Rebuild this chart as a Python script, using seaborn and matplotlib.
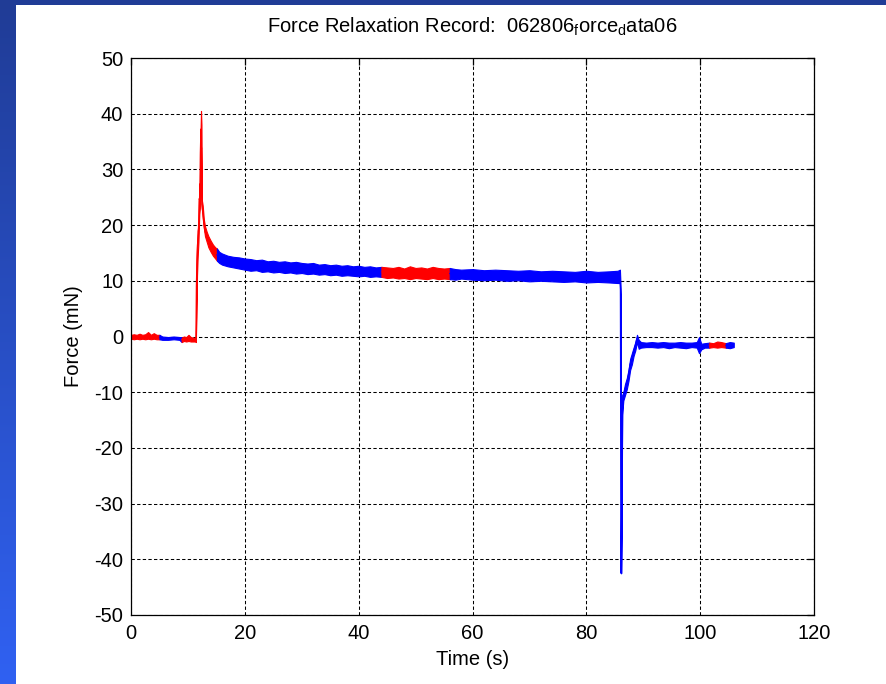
import numpy as np
import pandas as pd
import matplotlib
matplotlib.use("Agg")
import matplotlib.pyplot as plt
from matplotlib.patches import Rectangle
import seaborn as sns

# Force record: time knots with lower / upper envelope of the noisy trace,
# and the acquisition block (colour) each knot belongs to.
time_s = [
    # block 1 (red) baseline
    0.0, 0.5, 1.0, 1.5, 2.0, 2.5, 3.0, 3.5, 4.0, 4.5, 5.0,
    # block 2 (blue) baseline
    5.0, 5.5, 6.5, 7.5, 8.5, 8.9,
    # block 3 (red) step + peak
    8.9, 9.3, 9.7, 10.1, 10.5, 10.9, 11.3, 11.4, 11.45, 11.5, 11.6, 11.7,
    11.85, 12.0, 12.1, 12.2, 12.3, 12.38, 12.45, 12.6, 12.8, 13.0, 13.3,
    13.6, 14.0, 14.4, 14.8, 15.1,
    # block 4 (blue) relaxation
    15.1, 15.5, 16, 17, 18, 19, 20, 21, 22, 23, 24, 25, 26, 27, 28, 29,
    30, 31, 32, 33, 34, 35, 36, 37, 38, 39, 40, 41, 42, 43, 44,
    # block 5 (red)
    44, 45, 46, 47, 48, 49, 50, 51, 52, 53, 54, 55, 56,
    # block 6 (blue) plateau, release, recovery
    56, 57, 58, 60, 62, 64, 66, 68, 70, 72, 74, 76, 78, 80, 82, 84, 85.5,
    85.9, 86.0, 86.1, 86.2, 86.3, 86.5, 86.8, 87.1, 87.4, 87.7, 88.0, 88.3,
    88.6, 88.9, 89.2, 89.6, 90.5, 91.5, 92.5, 93.5, 94.5, 95.5, 96.5, 97.5,
    98.5, 99.4, 99.8, 100.2, 100.8, 101.6,
    # block 7 (red)
    101.6, 102.3, 103.0, 103.7, 104.5,
    # block 8 (blue)
    104.5, 105.2, 105.9,
]
force_lo = [
    -0.4, -0.5, -0.4, -0.5, -0.4, -0.5, -0.4, -0.5, -0.4, -0.5, -0.5,
    -0.5, -0.6, -0.6, -0.5, -0.6, -1.0,
    -1.0, -0.8, -0.9, -0.8, -0.9, -0.9, -0.9, -1.0, 2.5, 5.0, 11.0, 14.0,
    17.0, 22.0, 23.0, 30.0, 34.0, 25.0, 23.0, 21.5, 19.5, 18.0, 17.0,
    16.0, 15.2, 14.5, 14.0, 13.6,
    13.6, 13.2, 12.9, 12.6, 12.4, 12.2, 12.0, 11.8, 11.9, 11.6, 11.7, 11.5,
    11.6, 11.4, 11.5, 11.3, 11.4, 11.2, 11.3, 11.1, 11.2, 11.0, 11.1, 10.9,
    11.0, 10.9, 10.8, 10.9, 10.7, 10.8, 10.7,
    10.7, 10.5, 10.6, 10.4, 10.5, 10.3, 10.5, 10.4, 10.3, 10.5, 10.3, 10.4,
    10.3,
    10.3, 10.2, 10.4, 10.2, 10.1, 10.2, 10.0, 10.1, 9.9, 10.0, 9.9, 9.8,
    9.9, 9.7, 9.8, 9.7, 9.6,
    9.6, 7.2, -42.5, -32.5, -14.0, -11.5, -10.5, -9.5, -8.0, -6.0, -5.0,
    -3.5, -2.5, -1.0, -2.2, -2.0, -1.9, -1.9, -2.0, -1.9, -2.1, -1.9, -2.0,
    -2.1, -1.9, -2.0, -3.0, -2.3, -2.0, -2.0,
    -2.0, -1.9, -2.0, -1.9, -2.0,
    -2.0, -2.1, -1.9,
]
force_hi = [
    0.3, 0.4, 0.3, 0.5, 0.3, 0.4, 0.8, 0.3, 0.6, 0.3, 0.3,
    0.3, 0.0, -0.1, 0.0, -0.1, -0.1,
    -0.2, 0.0, -0.1, 0.3, -0.1, -0.2, -0.3, -0.5, 3.5, 13.0, 16.5, 19.0,
    20.0, 27.5, 26.0, 36.0, 40.5, 38.0, 24.5, 23.5, 21.0, 19.8, 18.8,
    18.0, 17.2, 16.5, 16.0, 15.8,
    15.8, 15.2, 14.9, 14.5, 14.3, 14.2, 14.0, 13.9, 13.7, 13.8, 13.5, 13.6,
    13.4, 13.5, 13.3, 13.4, 13.2, 13.1, 13.2, 12.9, 13.0, 12.8, 12.9, 12.7,
    12.8, 12.6, 12.7, 12.5, 12.6, 12.4, 12.5,
    12.5, 12.4, 12.3, 12.5, 12.2, 12.6, 12.3, 12.4, 12.2, 12.5, 12.3, 12.2,
    12.3,
    12.3, 12.1, 12.0, 12.1, 11.9, 12.0, 11.9, 11.8, 11.9, 11.7, 11.8, 11.7,
    11.6, 11.8, 11.6, 11.7, 11.8,
    12.0, 9.5, -42.5, -32.0, -10.5, -10.0, -8.5, -7.5, -6.0, -4.0, -3.0,
    -2.0, -1.0, 0.3, -0.6, -1.0, -1.1, -1.0, -1.1, -1.0, -1.1, -1.1, -1.0,
    -1.1, -1.1, -1.0, -0.1, -1.3, -1.2, -1.1,
    -1.1, -1.2, -0.9, -1.0, -1.2,
    -1.2, -1.0, -1.1,
]
block = (
    ["b1"] * 11 + ["b2"] * 6 + ["b3"] * 28 + ["b4"] * 31 + ["b5"] * 13
    + ["b6"] * 47 + ["b7"] * 5 + ["b8"] * 3
)
block_colours = {"b1": "#ff0000", "b2": "#0000ff", "b3": "#ff0000",
                 "b4": "#0000ff", "b5": "#ff0000", "b6": "#0000ff",
                 "b7": "#ff0000", "b8": "#0000ff"}

x_ticks = [0, 20, 40, 60, 80, 100, 120]
y_ticks = [-50, -40, -30, -20, -10, 0, 10, 20, 30, 40, 50]

# long table: each knot contributes its low and high envelope value
records = pd.DataFrame({
    "Time (s)": list(time_s) * 2,
    "Force (mN)": list(force_lo) + list(force_hi),
    "block": list(block) * 2,
})

sns.set_style("white")
plt.rcParams["font.family"] = ["Liberation Sans", "DejaVu Sans"]
plt.rcParams["mathtext.fontset"] = "custom"
plt.rcParams["mathtext.rm"] = "Liberation Sans"
plt.rcParams["axes.unicode_minus"] = False

W, H = 886, 684
fig = plt.figure(figsize=(W / 100, H / 100), dpi=100)
fig.patch.set_facecolor("white")

# slide frame: gradient strip on the left and a dark band along the top
bg = fig.add_axes([0, 0, 1, 1], zorder=-5)
bg.set_xlim(0, W)
bg.set_ylim(0, H)
bg.axis("off")
top_c = np.array([32, 60, 150]) / 255
bot_c = np.array([48, 97, 242]) / 255
frac = np.linspace(0, 1, 256)[:, None]
grad = (top_c[None, :] * (1 - frac) + bot_c[None, :] * frac)[:, None, :]
bg.imshow(grad, extent=[0, 16, 0, H], aspect="auto", origin="upper",
          interpolation="bilinear")
bg.add_patch(Rectangle((0, H - 5), W, 5, color=top_c, lw=0))

ax = fig.add_axes([131 / W, (H - 615) / H, 683 / W, 557 / H])
ax.set_facecolor("white")

sns.lineplot(
    data=records, x="Time (s)", y="Force (mN)", hue="block",
    palette=block_colours, estimator="mean", errorbar=("pi", 100),
    err_kws={"alpha": 1, "linewidth": 0.8}, linewidth=1.0,
    legend=False, ax=ax,
)

ax.set_xlim(0, 120)
ax.set_ylim(-50, 50)
ax.set_xticks(x_ticks)
ax.set_yticks(y_ticks)
ax.set_xticklabels([str(v) for v in x_ticks])
ax.set_yticklabels([str(v) for v in y_ticks])

ax.set_axisbelow(True)
ax.grid(True, color="black", linestyle=(0, (3.2, 2.2)), linewidth=0.75)

for s in ax.spines.values():
    s.set_visible(True)
    s.set_color("black")
    s.set_linewidth(0.9)

ax.tick_params(axis="both", direction="in", length=5, width=0.9,
               colors="black", labelsize=14.5, top=True, right=True)
ax.tick_params(axis="x", pad=6.5)
ax.tick_params(axis="y", pad=5.5)

ax.set_xlabel("Time (s)", fontsize=14.5, color="black")
ax.set_ylabel("Force (mN)", fontsize=14.5, color="black")
ax.xaxis.set_label_coords(0.5, -0.062)
ax.yaxis.set_label_coords(-0.070, 0.5)
ax.set_title(r"Force Relaxation Record:  062806$_{\mathregular{f}}$orce$_{\mathregular{d}}$ata06",
             fontsize=14.5, color="black", pad=18.5)

fig.savefig("out.png", dpi=100)
